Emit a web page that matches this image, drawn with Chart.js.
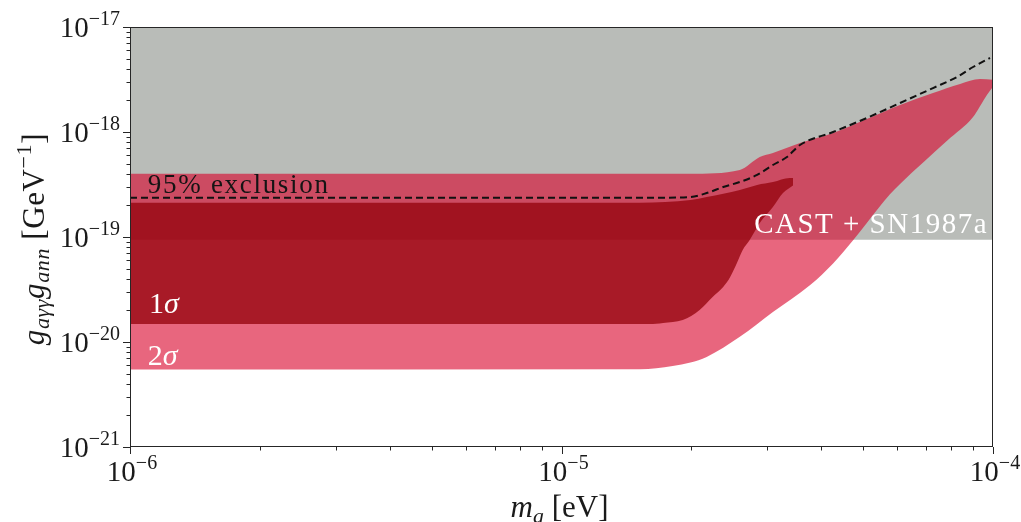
<!DOCTYPE html>
<html>
<head>
<meta charset="utf-8">
<script src="https://cdn.jsdelivr.net/npm/chart.js@4.4.1/dist/chart.umd.min.js"></script>
<style>
  html, body { margin: 0; padding: 0; background: #ffffff; }
  canvas { display: block; }
</style>
</head>
<body>
<canvas id="chart" width="1021" height="522"></canvas>
<script>
// Axion mass m_a [eV] on x, coupling product g_aγγ·g_ann [GeV^-1] on y (both log)
const xTickExponents = [-6, -5, -4];
const yTickExponents = [-21, -20, -19, -18, -17];

// CAST + SN1987a: couplings above this value are excluded
const castMass  = [1e-6, 1e-4];
const castLimit = [9.4e-20, 9.4e-20];

// 2σ preferred region, lower and upper edges
const sigma2LowerMass = [1e-6, 1.52e-5, 1.81e-5, 1.99e-5, 2.17e-5, 2.59e-5, 3.09e-5, 3.77e-5,
                         4.26e-5, 4.74e-5, 5.1e-5, 5.77e-5, 6.09e-5, 7.86e-5, 8.99e-5, 9.68e-5, 1e-4];
const sigma2Lower     = [5.47e-21, 5.5e-21, 5.91e-21, 6.38e-21, 7.2e-21, 1.12e-20, 1.93e-20, 3.49e-20,
                         5.6e-20, 9.3e-20, 1.36e-19, 2.55e-19, 3.2e-19, 8.39e-19, 1.39e-18, 2.25e-18, 2.7e-18];
const sigma2UpperMass = [1e-6, 1.99e-5, 2.59e-5, 2.88e-5, 3.09e-5, 3.57e-5, 4.26e-5, 5.1e-5,
                         6.09e-5, 7.26e-5, 8.39e-5, 9.33e-5, 1e-4];
const sigma2Upper     = [4.0e-19, 4.0e-19, 4.35e-19, 5.78e-19, 6.31e-19, 7.85e-19, 9.78e-19, 1.33e-18,
                         1.81e-18, 2.35e-18, 2.87e-18, 3.2e-18, 3.15e-18];

// 1σ preferred region, lower and upper edges
const sigma1LowerMass = [1e-6, 1.6e-5, 1.72e-5, 1.91e-5, 2.09e-5, 2.24e-5, 2.37e-5, 2.46e-5,
                         2.55e-5, 2.63e-5, 2.73e-5, 2.88e-5, 3.09e-5, 3.26e-5, 3.44e-5];
const sigma1Lower     = [1.48e-20, 1.48e-20, 1.52e-20, 1.62e-20, 2.02e-20, 2.68e-20, 3.34e-20, 4.16e-20,
                         5.65e-20, 7.52e-20, 9.36e-20, 1.36e-19, 1.93e-19, 2.62e-19, 3.1e-19];
const sigma1UpperMass = [1e-6, 1.52e-5, 1.99e-5, 2.17e-5, 2.59e-5, 2.84e-5, 3.09e-5, 3.38e-5, 3.44e-5];
const sigma1Upper     = [2.12e-19, 2.12e-19, 2.25e-19, 2.4e-19, 2.8e-19, 3.13e-19, 3.34e-19, 3.65e-19, 3.65e-19];

// 95% exclusion limit (dashed)
const exclusionMass  = [1e-6, 1.76e-5, 1.99e-5, 2.17e-5, 2.37e-5, 2.59e-5, 2.84e-5, 3.09e-5, 3.33e-5,
                        3.57e-5, 4.26e-5, 5.1e-5, 6.09e-5, 7.26e-5, 8.25e-5, 8.99e-5, 9.84e-5];
const exclusionLimit = [2.37e-19, 2.37e-19, 2.4e-19, 2.62e-19, 2.99e-19, 3.34e-19, 3.9e-19, 4.85e-19, 5.78e-19,
                        7.52e-19, 1.0e-18, 1.36e-18, 1.89e-18, 2.62e-18, 3.34e-18, 4.16e-18, 5.07e-18];

const zip = (xs, ys) => xs.map((x, i) => ({ x, y: ys[i] }));

const SERIF = "'Liberation Serif', 'Times New Roman', serif";
const font = (size, italic) => (italic ? 'italic ' : '') + size + 'px ' + SERIF;

// Draw a run of text pieces (font / vertical shift) as one line
function drawRuns(ctx, runs, x, y, align, color, spacing) {
  ctx.save();
  ctx.fillStyle = color;
  ctx.textBaseline = 'alphabetic';
  ctx.textAlign = 'left';
  ctx.letterSpacing = (spacing || 0) + 'px';
  let total = 0;
  runs.forEach(r => { ctx.font = r.f; r.w = ctx.measureText(r.t).width; total += r.w; });
  let cx = align === 'center' ? x - total / 2 : align === 'right' ? x - total : x;
  runs.forEach(r => { ctx.font = r.f; ctx.fillText(r.t, cx, y + (r.dy || 0)); cx += r.w; });
  ctx.restore();
  return total;
}

const powerLabel = e => [
  { t: '10', f: font(29) },
  { t: '\u2212' + Math.abs(e), f: font(20), dy: -12 }
];

// Annotations placed in data coordinates
const notes = [
  { runs: [{ t: '95% exclusion', f: font(27) }], x: 1.10e-6, y: 2.62e-19, align: 'left', color: '#141414', spacing: 1.7 },
  { runs: [{ t: '1', f: font(30) }, { t: '\u03C3', f: font(30, true) }], x: 1.107e-6, y: 1.89e-20, align: 'left', color: '#ffffff' },
  { runs: [{ t: '2', f: font(30) }, { t: '\u03C3', f: font(30, true) }], x: 1.10e-6, y: 6.04e-21, align: 'left', color: '#ffffff' },
  { runs: [{ t: 'CAST + SN1987a', f: font(29) }], x: 9.74e-5, y: 1.09e-19, align: 'right', color: '#ffffff', spacing: 1.5 }
];

const frame = {
  id: 'frame',
  afterDatasetsDraw(chart) {
    const { ctx, chartArea: a, scales: { x, y } } = chart;
    ctx.save();
    ctx.strokeStyle = '#262626';
    ctx.lineWidth = 1;
    // ticks (major decades + minor 2..9)
    ctx.beginPath();
    for (let e = -6; e <= -4; e++) {
      for (let k = 1; k <= 9; k++) {
        const v = k * Math.pow(10, e);
        if (v > 1.0001e-4) break;
        const px = Math.round(x.getPixelForValue(v)) + 0.5;
        const len = k === 1 ? 7 : 3.5;
        ctx.moveTo(px, a.bottom); ctx.lineTo(px, a.bottom + len);
      }
    }
    for (let e = -21; e <= -17; e++) {
      for (let k = 1; k <= 9; k++) {
        const v = k * Math.pow(10, e);
        if (v > 1.0001e-17) break;
        const py = Math.round(y.getPixelForValue(v)) + 0.5;
        const len = k === 1 ? 7 : 3.5;
        ctx.moveTo(a.left, py); ctx.lineTo(a.left - len, py);
      }
    }
    ctx.stroke();
    // frame
    ctx.strokeRect(a.left + 0.5, a.top + 0.5, a.right - a.left - 1, a.bottom - a.top - 1);
    ctx.restore();

    // tick labels
    xTickExponents.forEach(e => {
      drawRuns(ctx, powerLabel(e), x.getPixelForValue(Math.pow(10, e)) + 2, a.bottom + 34, 'center', '#1a1a1a');
    });
    yTickExponents.forEach(e => {
      drawRuns(ctx, powerLabel(e), a.left - 10, y.getPixelForValue(Math.pow(10, e)) + 10, 'right', '#1a1a1a');
    });

    // axis titles
    drawRuns(ctx, [
      { t: 'm', f: font(31, true) },
      { t: 'a', f: font(22, true), dy: 6 },
      { t: ' [eV]', f: font(31) }
    ], (a.left + a.right) / 2 - 2, 517, 'center', '#1a1a1a');

    ctx.save();
    ctx.translate(44, (a.top + a.bottom) / 2 + 2);
    ctx.rotate(-Math.PI / 2);
    drawRuns(ctx, [
      { t: 'g', f: font(31, true) },
      { t: 'a\u03B3\u03B3', f: font(22, true), dy: 5 },
      { t: 'g', f: font(31, true) },
      { t: 'ann', f: font(22, true), dy: 5 },
      { t: ' [GeV', f: font(31) },
      { t: '\u22121', f: font(22), dy: -13 },
      { t: ']', f: font(31) }
    ], 0, 0, 'center', '#1a1a1a', 0.6);
    ctx.restore();

    // annotations
    notes.forEach(n => {
      drawRuns(ctx, n.runs, x.getPixelForValue(n.x), y.getPixelForValue(n.y), n.align, n.color, n.spacing);
    });
  }
};

const area = (data, extra) => Object.assign({
  data, borderWidth: 0, pointRadius: 0, cubicInterpolationMode: 'monotone', showLine: true
}, extra);

new Chart(document.getElementById('chart'), {
  type: 'line',
  data: {
    datasets: [
      area(zip(castMass, castLimit), { label: 'CAST + SN1987a', fill: 'end', backgroundColor: '#b9bcb8', order: 10 }),
      area(zip(sigma2LowerMass, sigma2Lower), { label: '2σ lower', fill: false, order: 9 }),
      area(zip(sigma2UpperMass, sigma2Upper), { label: '2σ', fill: 1, backgroundColor: 'rgba(217,0,40,0.6)', order: 8 }),
      area(zip(sigma1LowerMass, sigma1Lower), { label: '1σ lower', fill: false, order: 7 }),
      area(zip(sigma1UpperMass, sigma1Upper), { label: '1σ', fill: 3, backgroundColor: 'rgba(146,0,10,0.74)', order: 6 }),
      {
        label: '95% exclusion', data: zip(exclusionMass, exclusionLimit),
        borderColor: '#111111', borderWidth: 2, borderDash: [7, 4], pointRadius: 0,
        fill: false, cubicInterpolationMode: 'monotone', order: 1
      }
    ]
  },
  options: {
    responsive: false,
    animation: false,
    layout: { padding: { left: 130, right: 28, top: 27, bottom: 75 } },
    scales: {
      x: { type: 'logarithmic', min: 1e-6, max: 1e-4, display: false },
      y: { type: 'logarithmic', min: 1e-21, max: 1e-17, display: false }
    },
    plugins: {
      legend: { display: false },
      tooltip: { enabled: false },
      filler: { propagate: false }
    }
  },
  plugins: [frame]
});
</script>
</body>
</html>
